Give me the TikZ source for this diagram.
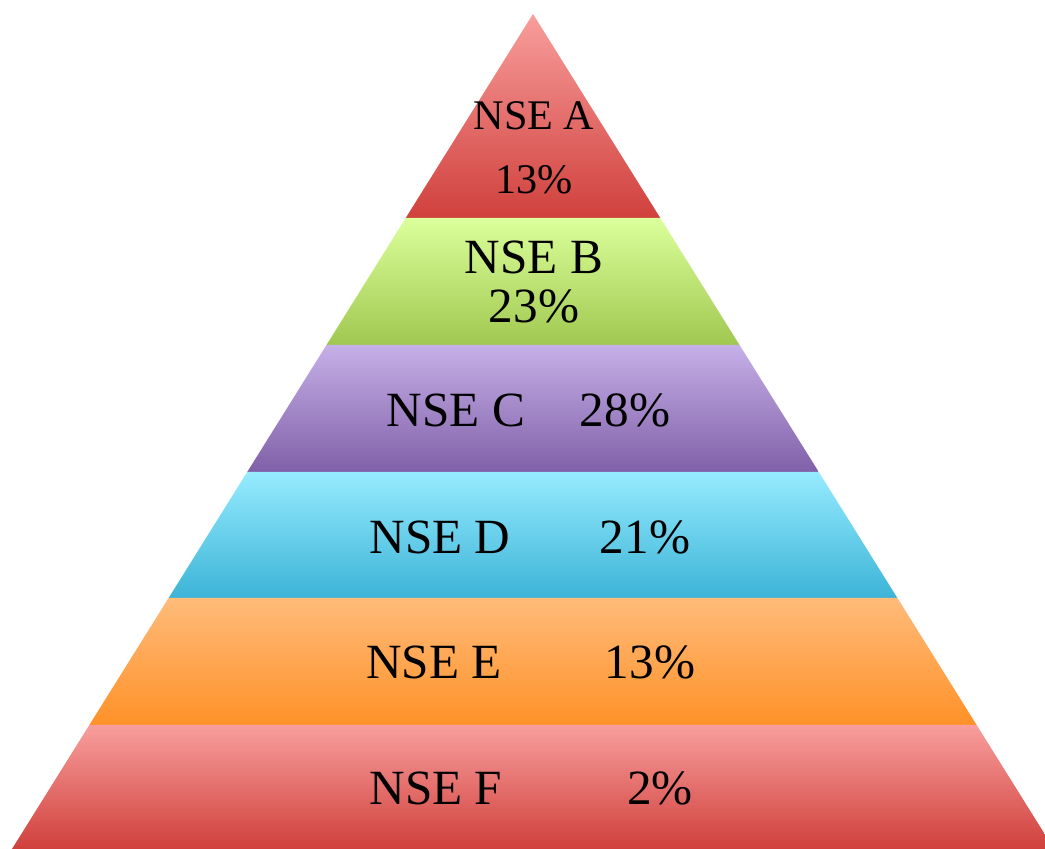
\documentclass[tikz,border=0pt]{standalone}
\usepackage{fontspec}
\setmainfont{Liberation Serif}
\definecolor{redtop}{RGB}{248,158,156}
\definecolor{redbot}{RGB}{208,64,60}
\definecolor{greentop}{RGB}{219,255,155}
\definecolor{greenbot}{RGB}{160,200,80}
\definecolor{violettop}{RGB}{198,176,232}
\definecolor{violetbot}{RGB}{128,96,168}
\definecolor{cyantop}{RGB}{150,235,255}
\definecolor{cyanbot}{RGB}{60,180,215}
\definecolor{orangetop}{RGB}{255,187,122}
\definecolor{orangebot}{RGB}{255,145,40}
\tikzset{
	lbl/.style={inner sep=0pt, font=\fontsize{14}{16}\selectfont},
	lblsmall/.style={inner sep=0pt, font=\fontsize{12}{14}\selectfont},
}
\begin{document}
\begin{tikzpicture}
		[x=0.01cm, y=-0.01cm]
		\useasboundingbox (0,0) rectangle (1045,849);
		\clip (0,0) rectangle (1045,849);
		% bands of the pyramid
		\foreach \ytop/\ybot/\ctop/\cbot in {
			14/218/redtop/redbot,
			218/345/greentop/greenbot,
			345/472/violettop/violetbot,
			472/598/cyantop/cyanbot,
			598/725/orangetop/orangebot,
			725/849/redtop/redbot}
		{
			\shade[top color=\ctop, bottom color=\cbot]
				({533-0.624*(\ytop-14)},\ytop) -- ({533+0.624*(\ytop-14)},\ytop)
				-- ({533+0.624*(\ybot-14)},\ybot) -- ({533-0.624*(\ybot-14)},\ybot) -- cycle;
		}
		% labels
		\node[lblsmall] (nseA) at (534,116) {NSE A};
		\node[lblsmall] (pctA) at (534,180) {13\%};
		\node[lbl] (nseB) at (534,257) {NSE B};
		\node[lbl] (pctB) at (534,306) {23\%};
		\node[lbl] (nseC) at (456,410) {NSE C};
		\node[lbl] (pctC) at (625,410) {28\%};
		\node[lbl] (nseD) at (440,537) {NSE D};
		\node[lbl] (pctD) at (645,537) {21\%};
		\node[lbl] (nseE) at (434,662) {NSE E};
		\node[lbl] (pctE) at (650,662) {13\%};
		\node[lbl] (nseF) at (436,788) {NSE F};
		\node[lbl] (pctF) at (660,788) {2\%};
	\end{tikzpicture}
\end{document}
